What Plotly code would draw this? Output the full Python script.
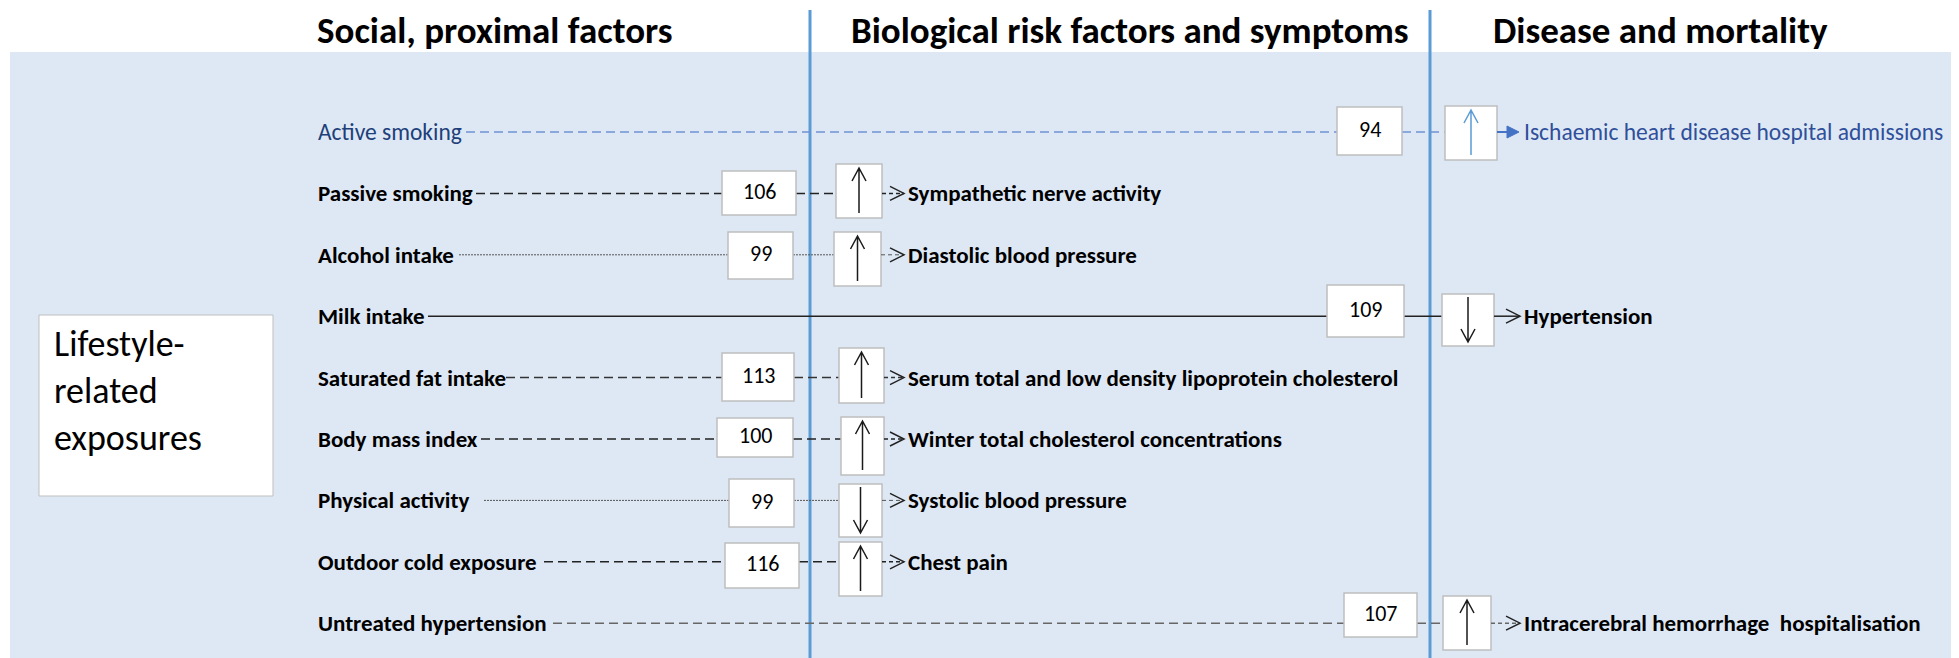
import plotly.graph_objects as go

# data
stages = ['Social, proximal factors', 'Biological risk factors and symptoms', 'Disease and mortality']
exposures = ['Active smoking', 'Passive smoking', 'Alcohol intake', 'Milk intake',
             'Saturated fat intake', 'Body mass index', 'Physical activity',
             'Outdoor cold exposure', 'Untreated hypertension']
ref_numbers = [94, 106, 99, 109, 113, 100, 99, 116, 107]
directions = ['up', 'up', 'up', 'down', 'up', 'up', 'down', 'up', 'up']
outcomes = ['Ischaemic heart disease hospital admissions', 'Sympathetic nerve activity',
            'Diastolic blood pressure', 'Hypertension',
            'Serum total and low density lipoprotein cholesterol',
            'Winter total cholesterol concentrations', 'Systolic blood pressure',
            'Chest pain', 'Intracerebral hemorrhage  hospitalisation']
outcome_stage = [2, 1, 1, 2, 1, 1, 1, 1, 2]
group_label = 'Lifestyle-<br>related<br>exposures'

# styling / layout
W, H = 1959, 658
OFF = 8  # page body margin, axes ranges are shifted so data units == window pixels
FONT = 'Carlito, Lato, sans-serif'
BG = '#DEE8F4'
DIVIDER = '#5B9BD5'
BOX_LINE = '#BFBFBF'
line_start = [466, 476, 459, 428, 506, 481, 484, 544, 553]
line_dash = ['9px,5px', '9px,5px', '2px,1px', 'solid', '9px,5px', '9px,5px',
             '2px,1px', '9px,5px', '9px,5px']
line_color = ['#6F93D3', '#222222', '#555555', '#222222', '#333333', '#222222',
              '#555555', '#222222', '#666666']
text_color = ['#203F7A', 'black', 'black', 'black', 'black', 'black', 'black', 'black', 'black']
bold = [False, True, True, True, True, True, True, True, True]
# box geometry per row (window pixels)
ref_box_x = [(1337, 1402), (722, 796), (728, 793), (1327, 1404), (722, 794),
             (717, 793), (729, 794), (725, 799), (1344, 1417)]
ref_box_y = [(107, 155), (171, 215), (232, 279), (285, 337), (353, 401),
             (418, 457), (479, 527), (543, 588), (593, 637)]
arr_box_x = [(1445, 1497), (836, 882), (834, 881), (1442, 1494), (839, 884),
             (841, 884), (839, 882), (839, 882), (1443, 1491)]
arr_box_y = [(106, 160), (164, 218), (232, 286), (294, 346), (348, 403),
             (417, 475), (484, 537), (542, 596), (596, 650)]
text_x = {1: 906, 2: 1522}
row_y0, row_step = 132, 61.4

fig = go.Figure()
shapes = []
annotations = []

# light blue panel
shapes.append(dict(type='rect', x0=10, x1=W + OFF, y0=52, y1=H + OFF, fillcolor=BG,
                   line_width=0, layer='below'))

# column headers and dividers
for cx, title in zip([495, 1130, 1660], stages):
    annotations.append(dict(x=cx, y=30, text='<b>%s</b>' % title, showarrow=False,
                            font=dict(family=FONT, size=37, color='black'),
                            xanchor='center', yanchor='middle'))
for dx in [810, 1430]:
    shapes.append(dict(type='line', x0=dx, x1=dx, y0=10, y1=H + OFF,
                       line=dict(color=DIVIDER, width=3), layer='above'))

# group box on the left
shapes.append(dict(type='rect', x0=39, x1=273, y0=315, y1=496, fillcolor='white',
                   line=dict(color=BOX_LINE, width=1)))
annotations.append(dict(x=52, y=391, text=group_label, showarrow=False, align='left',
                        xanchor='left', yanchor='middle',
                        font=dict(family=FONT, size=36, color='black')))

for i, name in enumerate(exposures):
    y = row_y0 + i * row_step
    st = outcome_stage[i]
    lc, ld = line_color[i], line_dash[i]
    lw = 1 if ld == '2px,1px' else 1.5
    num = str(ref_numbers[i])
    rx0, rx1 = ref_box_x[i]
    ry0, ry1 = ref_box_y[i]
    ax0, ax1 = arr_box_x[i]
    ay0, ay1 = arr_box_y[i]
    tx = text_x[st]
    fw = '<b>%s</b>' if bold[i] else '%s'
    is_blue = i == 0
    tsize = 23 if bold[i] else 23.5

    # exposure label
    annotations.append(dict(x=316, y=y, text=fw % name, showarrow=False,
                            xanchor='left', yanchor='middle',
                            font=dict(family=FONT, size=tsize, color=text_color[i])))
    # line to reference box, then to arrow box
    shapes.append(dict(type='line', x0=line_start[i], x1=rx0, y0=y, y1=y,
                       line=dict(color=lc, width=lw, dash=ld)))
    shapes.append(dict(type='line', x0=rx1, x1=ax0, y0=y, y1=y,
                       line=dict(color=lc, width=lw, dash=ld)))
    # reference number box
    shapes.append(dict(type='rect', x0=rx0, x1=rx1, y0=ry0, y1=ry1,
                       fillcolor='white', line=dict(color=BOX_LINE, width=1.5)))
    annotations.append(dict(x=(rx0 + rx1) / 2, y=(ry0 + ry1) / 2 - 2, text=num,
                            showarrow=False, xanchor='center', yanchor='middle',
                            font=dict(family=FONT, size=22, color='black')))
    # arrow box with direction arrow
    shapes.append(dict(type='rect', x0=ax0, x1=ax1, y0=ay0, y1=ay1,
                       fillcolor='white', line=dict(color=BOX_LINE, width=1.5)))
    mx = (ax0 + ax1) / 2
    acol = '#5B9BD5' if is_blue else '#1A1A1A'
    if directions[i] == 'up':
        tip, tail, hs = ay0 + 4, ay1 - 5, 13
    else:
        tip, tail, hs = ay1 - 4, ay0 + 3, -13
    path = 'M %f,%f L %f,%f M %f,%f L %f,%f L %f,%f' % (
        mx, tail, mx, tip, mx - 7, tip + hs, mx, tip, mx + 7, tip + hs)
    shapes.append(dict(type='path', path=path, line=dict(color=acol, width=1.5)))

    # connector to outcome
    if is_blue:
        shapes.append(dict(type='line', x0=ax1, x1=tx - 12, y0=y, y1=y,
                           line=dict(color='#4472C4', width=2)))
        shapes.append(dict(type='path',
                           path='M %f,%f L %f,%f L %f,%f Z' % (tx - 15, y - 6, tx - 3, y, tx - 15, y + 6),
                           fillcolor='#4472C4', line=dict(color='#4472C4', width=1)))
    else:
        cdash = 'solid' if ld == 'solid' else '4px,3px'
        shapes.append(dict(type='line', x0=ax1, x1=tx - 2, y0=y, y1=y,
                           line=dict(color=lc, width=lw, dash=cdash)))
        shapes.append(dict(type='path',
                           path='M %f,%f L %f,%f L %f,%f' % (tx - 16, y - 7, tx - 2, y, tx - 16, y + 7),
                           line=dict(color='#222222', width=1.5)))
    annotations.append(dict(x=tx, y=y, text=fw % outcomes[i], showarrow=False,
                            xanchor='left', yanchor='middle',
                            font=dict(family=FONT, size=tsize,
                                      color='#2F4F9A' if is_blue else 'black')))

for s in shapes:
    s.setdefault('xref', 'x')
    s.setdefault('yref', 'y')

fig.update_layout(
    width=W, height=H,
    margin=dict(l=0, r=0, t=0, b=0),
    paper_bgcolor='white', plot_bgcolor='white',
    xaxis=dict(range=[OFF, W + OFF], visible=False, fixedrange=True),
    yaxis=dict(range=[H + OFF, OFF], visible=False, fixedrange=True),
    shapes=shapes, annotations=annotations,
    showlegend=False,
)

fig.write_html('out.html')
